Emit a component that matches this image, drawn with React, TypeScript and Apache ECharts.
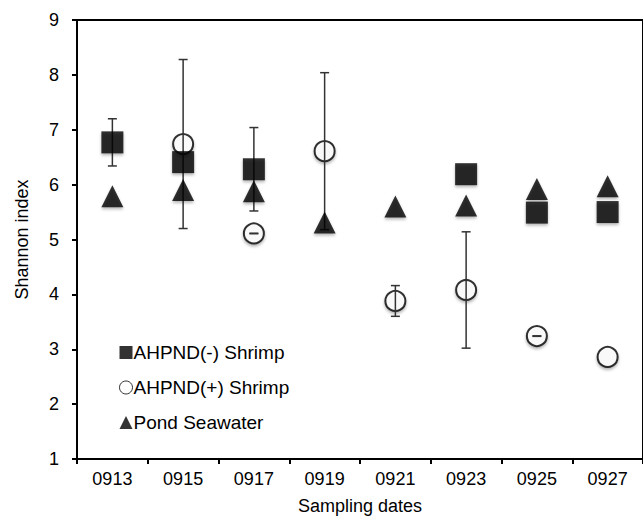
import React, { useEffect, useRef } from "react";
import * as echarts from "echarts";

const categories = ["0913", "0915", "0917", "0919", "0921", "0923", "0925", "0927"];
const shrimpNeg: (number | null)[] = [6.77, 6.41, 6.28, null, null, 6.19, 5.49, 5.5];
const shrimpNegErr: (number | null)[] = [0.43, null, 0.76, null, null, null, null, null];
const shrimpPos: (number | null)[] = [null, 6.74, 5.11, 6.61, 3.88, 4.08, 3.24, 2.86];
const shrimpPosErr: (number | null)[] = [null, 1.54, 0.005, 1.43, 0.28, 1.06, 0.005, null];
const pond: number[] = [5.79, 5.9, 5.88, 5.31, 5.6, 5.62, 5.92, 5.97];
const yTicks = [1, 2, 3, 4, 5, 6, 7, 8, 9];

const FONT = "Liberation Sans, Arial, sans-serif";

function errData(vals: (number | null)[], errs: (number | null)[]) {
  const out: number[][] = [];
  vals.forEach((v, i) => {
    const e = errs[i];
    if (v != null && e != null) out.push([i, v - e, v + e]);
  });
  return out;
}

const renderErr = (params: any, api: any) => {
  const i = api.value(0);
  const lo = api.coord([i, api.value(1)]);
  const hi = api.coord([i, api.value(2)]);
  const cap = 4.5;
  const style = { stroke: "#333", lineWidth: 1.5 };
  return {
    type: "group",
    children: [
      { type: "line", shape: { x1: lo[0], y1: lo[1], x2: hi[0], y2: hi[1] }, style },
      { type: "line", shape: { x1: lo[0] - cap, y1: lo[1], x2: lo[0] + cap, y2: lo[1] }, style },
      { type: "line", shape: { x1: hi[0] - cap, y1: hi[1], x2: hi[0] + cap, y2: hi[1] }, style },
    ],
  };
};

const shadow = { shadowBlur: 3, shadowColor: "rgba(0,0,0,0.35)", shadowOffsetY: 2 };

export default function App() {
  const ref = useRef<HTMLDivElement>(null);
  useEffect(() => {
    document.body.style.margin = "0";
    if (!ref.current) return;
    const chart = echarts.init(ref.current, null, { renderer: "svg" });
    chart.setOption({
      animation: false,
      backgroundColor: "#fff",
      grid: {
        left: 77,
        top: 20,
        width: 570,
        height: 442.5,
        show: true,
        borderColor: "#000",
        borderWidth: 2,
        containLabel: false,
      },
      legend: {
        orient: "vertical",
        left: 114,
        top: 338,
        itemWidth: 13,
        itemHeight: 13,
        itemGap: 16,
        data: [
          { name: "AHPND(-) Shrimp", itemStyle: { shadowBlur: 0, shadowOffsetY: 0 } },
          { name: "AHPND(+) Shrimp", itemStyle: { borderWidth: 1, shadowBlur: 0, shadowOffsetY: 0 } },
          { name: "Pond Seawater", itemStyle: { shadowBlur: 0, shadowOffsetY: 0 } },
        ],
        textStyle: { fontFamily: FONT, fontSize: 19, color: "#000", padding: [0, 0, 0, -4] },
      },
      xAxis: {
        type: "category",
        data: categories,
        boundaryGap: true,
        name: "Sampling dates",
        nameLocation: "middle",
        nameGap: 38,
        nameTextStyle: { fontFamily: FONT, fontSize: 18, color: "#000" },
        axisLine: { lineStyle: { color: "#000", width: 2 } },
        axisTick: { show: true, length: 5, lineStyle: { color: "#000", width: 2 } },
        axisLabel: { fontFamily: FONT, fontSize: 18, color: "#000", margin: 11 },
        splitLine: { show: false },
      },
      yAxis: {
        type: "value",
        min: yTicks[0],
        max: yTicks[yTicks.length - 1],
        interval: 1,
        name: "Shannon index",
        nameLocation: "middle",
        nameGap: 46,
        nameRotate: 90,
        nameTextStyle: { fontFamily: FONT, fontSize: 18, color: "#000" },
        axisLine: { show: true, lineStyle: { color: "#000", width: 2 } },
        axisTick: { show: true, length: 5, lineStyle: { color: "#000", width: 2 } },
        axisLabel: { fontFamily: FONT, fontSize: 18, color: "#000", margin: 18 },
        splitLine: { show: false },
      },
      series: [
        {
          name: "AHPND(+) Shrimp",
          type: "scatter",
          symbol: "circle",
          symbolSize: 20,
          z: 1,
          data: shrimpPos.map((v) => (v == null ? "-" : v)),
          itemStyle: { color: "#fff", borderColor: "#000", borderWidth: 2, ...shadow },
        },
        {
          name: "errPos",
          type: "custom",
          z: 2,
          renderItem: renderErr,
          data: errData(shrimpPos, shrimpPosErr),
          silent: true,
        },
        {
          name: "errNeg",
          type: "custom",
          z: 2,
          renderItem: renderErr,
          data: errData(shrimpNeg, shrimpNegErr),
          silent: true,
        },
        {
          name: "AHPND(-) Shrimp",
          type: "scatter",
          symbol: "rect",
          symbolSize: 22,
          z: 3,
          data: shrimpNeg.map((v) => (v == null ? "-" : v)),
          itemStyle: { color: "#000", ...shadow },
        },
        {
          name: "Pond Seawater",
          type: "scatter",
          symbol: "triangle",
          symbolSize: 22,
          z: 4,
          data: pond,
          itemStyle: { color: "#000", ...shadow },
        },
      ],
    });
    return () => chart.dispose();
  }, []);
  return <div ref={ref} style={{ width: 643, height: 520 }} />;
}
